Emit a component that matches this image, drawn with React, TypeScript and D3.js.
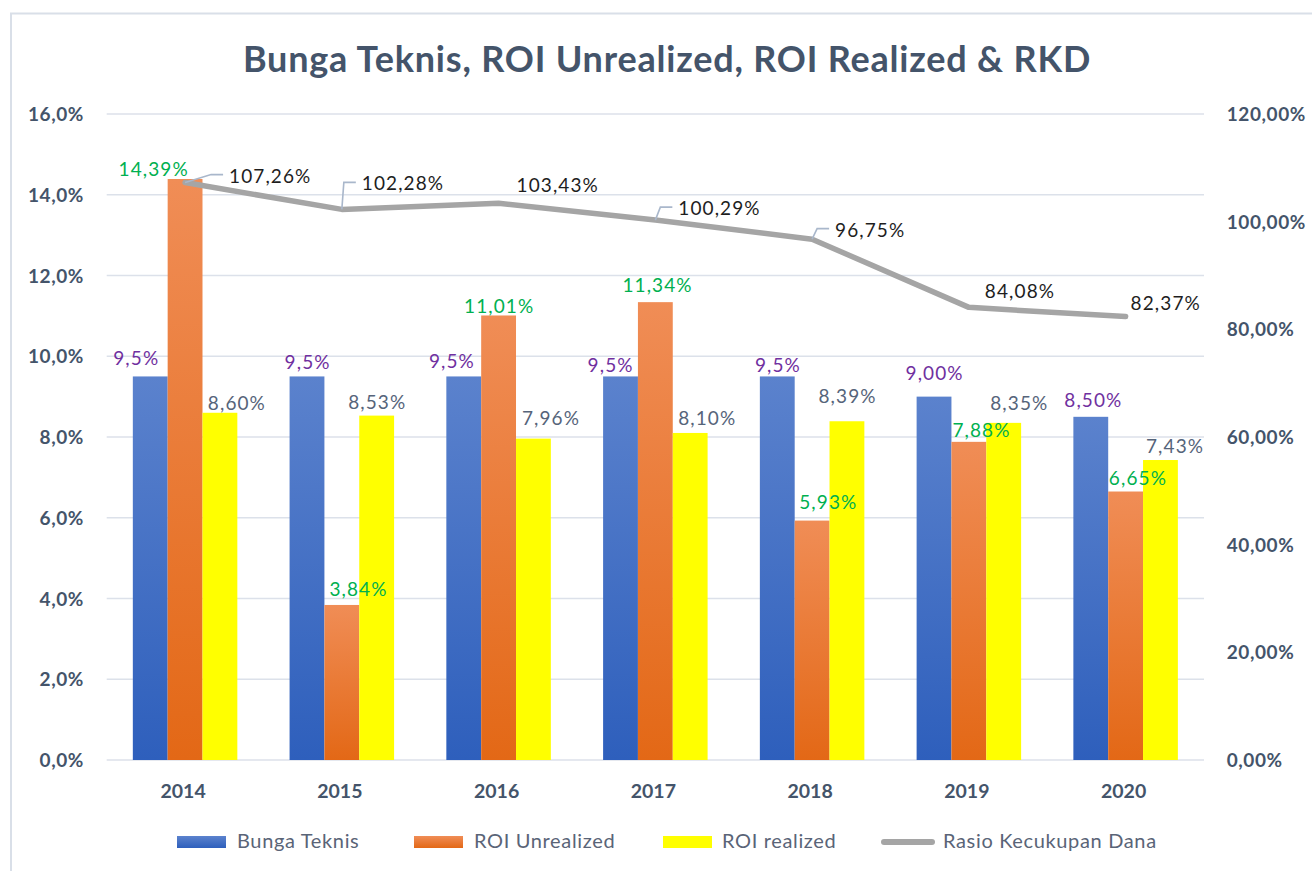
import React from "react";
import * as d3 from "d3";

const years = ["2014", "2015", "2016", "2017", "2018", "2019", "2020"];
const seriesNames = ["Bunga Teknis", "ROI Unrealized", "ROI realized"];
const bungaTeknis = [9.5, 9.5, 9.5, 9.5, 9.5, 9.0, 8.5];
const bungaDecimals = [1, 1, 1, 1, 1, 2, 2];
const roiUnrealized = [14.39, 3.84, 11.01, 11.34, 5.93, 7.88, 6.65];
const roiRealized = [8.6, 8.53, 7.96, 8.1, 8.39, 8.35, 7.43];
const rkd = [107.26, 102.28, 103.43, 100.29, 96.75, 84.08, 82.37];
const leftTicks = [0, 2, 4, 6, 8, 10, 12, 14, 16];
const rightTicks = [0, 20, 40, 60, 80, 100, 120];
const lineName = "Rasio Kecukupan Dana";
const title = "Bunga Teknis, ROI Unrealized, ROI Realized & RKD";

// layout: label nudges (dx from bar centre, dy of baseline from bar top)
const barLabelNudge = [
  { dx: [-14.6, 0, -12.4, -10.5, 0, 0, 2], dy: [-11, -7, -8.6, -4, -4, -16.6, -10] },
  { dx: [-32, 16, 0, 1.6, 15.6, 12, 11.7], dy: [-3, -8.6, -2, -10, -12, -5, -6.5] },
  { dx: [16.4, 0, 17, 16.4, 0, 15, 14], dy: [-3, -7, -13.6, -8, -18, -13, -7] },
];
const lineLabelNudge = {
  dx: [44, 20, 18, 23, 23, 16, 5],
  dy: [0, -19, -11.5, -5, -2.5, -9, -6.6],
  leader: [true, true, false, true, true, false, false],
};

const FONT = 'Lato, "Open Sans", sans-serif';
const W = 1312;
const H = 871;
const plotL = 106.7;
const plotR = 1204;
const plotT = 114;
const plotB = 760;

const fmt = (v: number, d: number) => v.toFixed(d).replace(".", ",") + "%";

export default function App() {
  const x = d3
    .scaleBand<string>()
    .domain(years)
    .range([plotL, plotR])
    .paddingInner(1 / 3)
    .paddingOuter(1 / 6);
  const x1 = d3.scaleBand<string>().domain(seriesNames).range([0, x.bandwidth()]);
  const y = d3.scaleLinear().domain([0, 16]).range([plotB, plotT]);
  const y2 = d3.scaleLinear().domain([0, 120]).range([plotB, plotT]);

  const seriesValues = [bungaTeknis, roiUnrealized, roiRealized];
  const fills = ["url(#gBlue)", "url(#gOrange)", "#FFFF00"];
  const labelColors = ["#7030A0", "#00B050", "#56647A"];

  const cx = (i: number) => (x(years[i]) as number) + x.bandwidth() / 2;
  const line = d3
    .line<number>()
    .x((_, i) => cx(i))
    .y((d) => y2(d));

  const legendItems = [
    { type: "rect", fill: "url(#gBlue)", x: 177, tx: 237, label: seriesNames[0] },
    { type: "rect", fill: "url(#gOrange)", x: 414, tx: 474, label: seriesNames[1] },
    { type: "rect", fill: "#FFFF00", x: 663, tx: 722, label: seriesNames[2] },
    { type: "line", fill: "#A5A5A5", x: 881, tx: 943, label: lineName },
  ];

  return (
    <svg
      width={W}
      height={H}
      style={{ position: "absolute", left: 0, top: 0, background: "#fff" }}
      fontFamily={FONT}
    >
      <defs>
        <linearGradient id="gBlue" x1="0" y1="0" x2="0" y2="1">
          <stop offset="0" stopColor="#5B82CD" />
          <stop offset="1" stopColor="#2E5FBC" />
        </linearGradient>
        <linearGradient id="gOrange" x1="0" y1="0" x2="0" y2="1">
          <stop offset="0" stopColor="#F08D56" />
          <stop offset="1" stopColor="#E36816" />
        </linearGradient>
      </defs>
      <rect x={0} y={0} width={W} height={H} fill="#fff" />
      <rect x={11} y={13.5} width={W + 20} height={H + 20} fill="none" stroke="#D9DFE8" strokeWidth={2} />

      <text x={667} y={72} textAnchor="middle" fontSize={36} fontWeight="bold" fill="#44546A" letterSpacing={0.8}>
        {title}
      </text>

      {leftTicks.map((t) => (
        <line key={"g" + t} x1={plotL} x2={plotR} y1={y(t)} y2={y(t)} stroke="#DCE1EA" strokeWidth={1.6} />
      ))}
      {leftTicks.map((t) => (
        <text key={"l" + t} x={84} y={y(t) + 7} textAnchor="end" fontSize={19} fontWeight="bold" fill="#44546A" letterSpacing={0.6}>
          {fmt(t, 1)}
        </text>
      ))}
      {rightTicks.map((t) => (
        <text key={"r" + t} x={1226.7} y={y2(t) + 7} textAnchor="start" fontSize={19} fontWeight="bold" fill="#44546A" letterSpacing={0.6}>
          {fmt(t, 2)}
        </text>
      ))}
      {years.map((yr, i) => (
        <text key={"c" + yr} x={cx(i) - 2} y={798} textAnchor="middle" fontSize={19.5} fontWeight="bold" fill="#44546A">
          {yr}
        </text>
      ))}

      {seriesValues.map((vals, s) =>
        vals.map((v, i) => (
          <rect
            key={`b${s}-${i}`}
            x={(x(years[i]) as number) + (x1(seriesNames[s]) as number)}
            y={y(v)}
            width={x1.bandwidth()}
            height={plotB - y(v)}
            fill={fills[s]}
          />
        ))
      )}

      <path d={line(rkd) || ""} fill="none" stroke="#A5A5A5" strokeWidth={5.5} strokeLinejoin="round" strokeLinecap="round" />

      {rkd.map((v, i) => {
        const px = cx(i);
        const py = y2(v);
        const tl = px + lineLabelNudge.dx[i];
        const bl = py + lineLabelNudge.dy[i];
        const mid = bl - 8;
        const end = tl - 6;
        const elbow = Math.max(px, end - 12);
        return (
          <g key={"ll" + i}>
            {lineLabelNudge.leader[i] && (
              <polyline
                points={`${px},${py} ${elbow},${mid} ${end},${mid}`}
                fill="none"
                stroke="#A9B7CB"
                strokeWidth={1.6}
              />
            )}
            <text x={tl} y={bl} fontSize={19} fill="#1E1E1E" letterSpacing={1.1}>
              {fmt(v, 2)}
            </text>
          </g>
        );
      })}

      {seriesValues.map((vals, s) =>
        vals.map((v, i) => {
          const bx = (x(years[i]) as number) + (x1(seriesNames[s]) as number) + x1.bandwidth() / 2;
          const d = s === 0 ? bungaDecimals[i] : 2;
          return (
            <text
              key={`t${s}-${i}`}
              x={bx + barLabelNudge[s].dx[i] + 0.6}
              y={y(v) + barLabelNudge[s].dy[i]}
              textAnchor="middle"
              fontSize={19}
              fill={labelColors[s]}
              letterSpacing={1.1}
            >
              {fmt(v, d)}
            </text>
          );
        })
      )}

      {legendItems.map((it) => (
        <g key={"lg" + it.label}>
          {it.type === "rect" ? (
            <rect x={it.x} y={836} width={49} height={12} fill={it.fill} />
          ) : (
            <line x1={it.x + 3} x2={it.x + 51} y1={842} y2={842} stroke={it.fill} strokeWidth={6} strokeLinecap="round" />
          )}
          <text x={it.tx} y={848} fontSize={20} fill="#5A6477" letterSpacing={0.65}>
            {it.label}
          </text>
        </g>
      ))}
    </svg>
  );
}
